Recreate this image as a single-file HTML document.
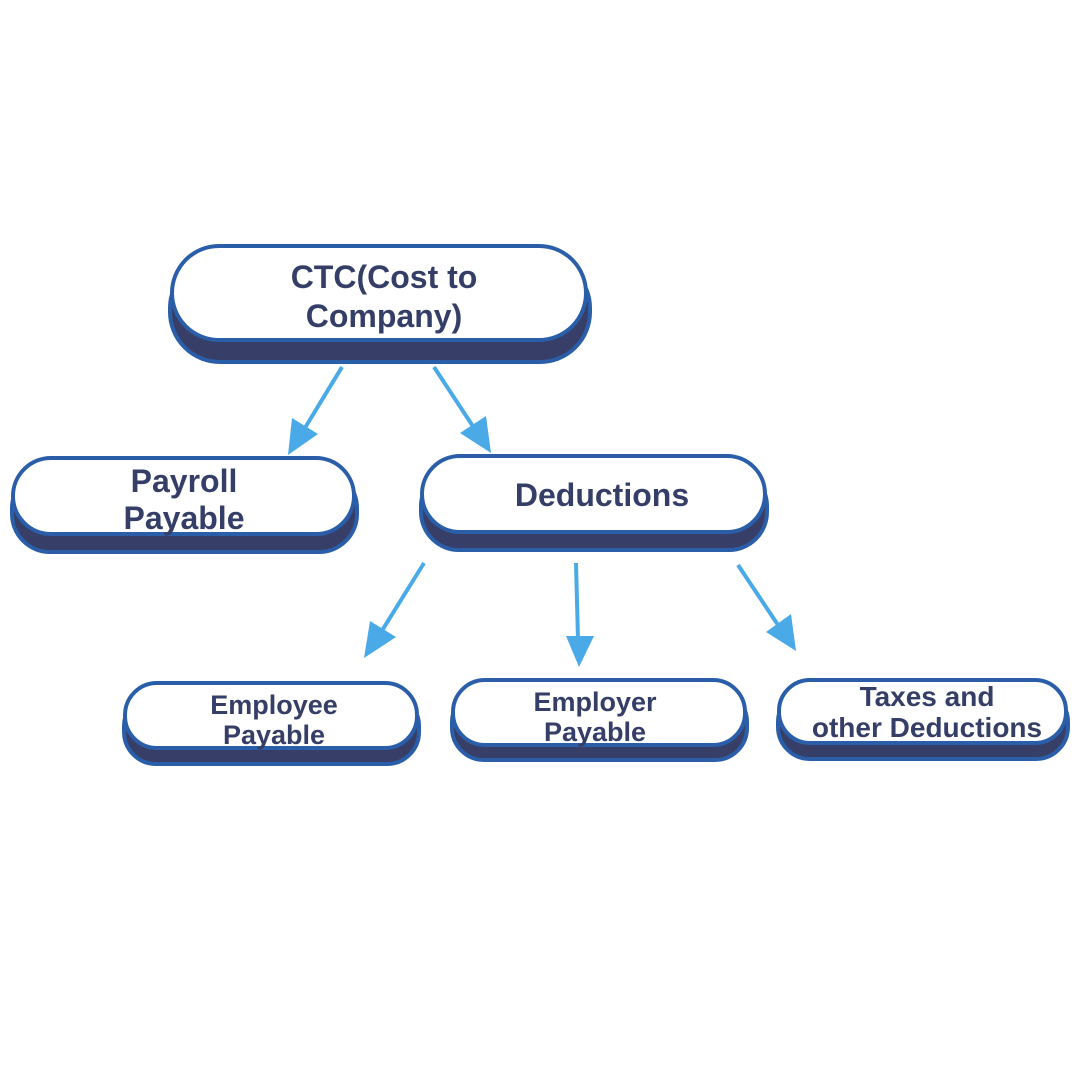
<!DOCTYPE html>
<html><head><meta charset="utf-8"><style>
body{margin:0;background:#fff}
svg{display:block}
text{font-family:"Liberation Sans",sans-serif;font-weight:bold;fill:#353e66;text-anchor:middle}
</style></head><body>
<svg width="1080" height="1080" viewBox="0 0 1080 1080">
<g stroke="#2a5ea8" stroke-width="4">
<rect x="170" y="258" width="420" height="104" rx="50" fill="#373f68"/>
<rect x="172" y="246" width="414" height="94" rx="47" fill="#fff"/>
<rect x="12" y="470" width="345" height="82" rx="38" fill="#373f68"/>
<rect x="13" y="458" width="341" height="76" rx="38" fill="#fff"/>
<rect x="421" y="468" width="346" height="82" rx="38" fill="#373f68"/>
<rect x="422" y="456" width="343" height="76" rx="38" fill="#fff"/>
<rect x="124" y="694" width="295" height="70" rx="32" fill="#373f68"/>
<rect x="125" y="683" width="292" height="65" rx="32" fill="#fff"/>
<rect x="452" y="690" width="295" height="70" rx="32" fill="#373f68"/>
<rect x="453" y="680" width="292" height="65" rx="32" fill="#fff"/>
<rect x="778" y="690" width="290" height="69" rx="32" fill="#373f68"/>
<rect x="779" y="680" width="287" height="63" rx="31" fill="#fff"/>
</g>
<g stroke="#4aaae8" stroke-width="4" fill="#4aaae8">
<line x1="342" y1="367" x2="300" y2="436"/>
<path d="M288,455 L292,418 L318,434 Z" stroke="none"/>
<line x1="434" y1="367" x2="478" y2="434"/>
<path d="M491,453 L460,433 L486,416 Z" stroke="none"/>
<line x1="424" y1="563" x2="378" y2="637"/>
<path d="M364,658 L370,621 L396,637 Z" stroke="none"/>
<line x1="576" y1="563" x2="578" y2="640"/>
<path d="M579,667 L566,636 L594,636 Z" stroke="none"/>
<line x1="738" y1="565" x2="782" y2="631"/>
<path d="M796,651 L766,632 L791,614 Z" stroke="none"/>
</g>
<text x="384" y="288" font-size="32">CTC(Cost to</text>
<text x="384" y="327" font-size="32">Company)</text>
<text x="184" y="492" font-size="32">Payroll</text>
<text x="184" y="529" font-size="32">Payable</text>
<text x="602" y="506" font-size="32">Deductions</text>
<text x="274" y="714" font-size="27">Employee</text>
<text x="274" y="744" font-size="27">Payable</text>
<text x="595" y="711" font-size="27">Employer</text>
<text x="595" y="741" font-size="27">Payable</text>
<text x="927" y="706" font-size="28">Taxes and</text>
<text x="927" y="737" font-size="28">other Deductions</text>
</svg>
</body></html>
